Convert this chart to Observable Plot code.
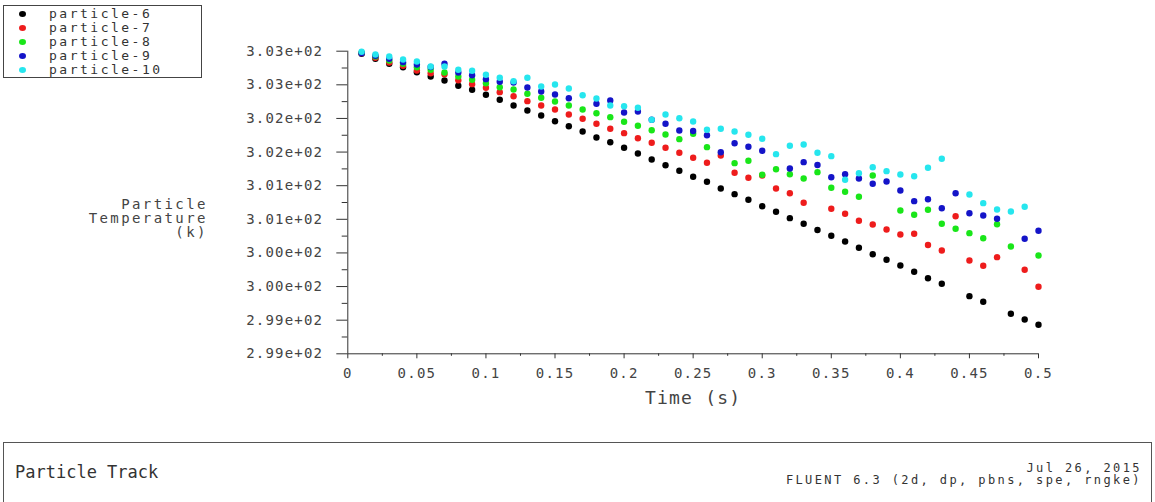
<!DOCTYPE html>
<html><head><meta charset="utf-8">
<script src="https://cdn.jsdelivr.net/npm/d3@7"></script>
<script src="https://cdn.jsdelivr.net/npm/@observablehq/plot@0.6"></script>
<style>
html,body{margin:0;padding:0;background:#fff;overflow:hidden;width:1155px;height:502px}
#wrap{position:relative;width:1155px;height:502px;overflow:hidden}
#chart{position:absolute;left:0;top:0}
#chart svg text{letter-spacing:1.2px}
#chart svg g[aria-label="text"] text{letter-spacing:2.4px}
#chart svg g[aria-label="text"] text.xtitle{letter-spacing:1.2px}
#legend{position:absolute;left:3px;top:5px;width:199px;height:73px;border:1px solid #444;box-sizing:border-box;background:#fff;font-family:"DejaVu Sans Mono",monospace;font-size:13px;letter-spacing:2.5px;color:#333}
#legend .row{position:absolute;left:0;height:14px;line-height:14px;white-space:nowrap}
#legend .dot{position:absolute;left:15px;top:4px;width:7px;height:6px;border-radius:50%}
#legend .lab{position:absolute;left:45px;top:0px}
#footer{position:absolute;left:3px;top:442px;width:1149px;height:80px;border:1px solid #555;box-sizing:border-box;background:#fff;font-family:"DejaVu Sans Mono",monospace;color:#333}
#footer .left{position:absolute;left:11px;top:19px;font-size:17px;line-height:20px}
#footer .right{position:absolute;right:9px;top:19px;font-size:12px;line-height:12px;letter-spacing:2.4px;text-align:right;white-space:pre}
</style>
</head><body>
<div id="wrap">
  <div id="chart"></div>
  <div id="legend"></div>
  <div id="footer"></div>
</div>
<script>
// ---- data ----
const times = [0.01,0.02,0.03,0.04,0.05,0.06,0.07,0.08,0.09,0.10,
               0.11,0.12,0.13,0.14,0.15,0.16,0.17,0.18,0.19,0.20,
               0.21,0.22,0.23,0.24,0.25,0.26,0.27,0.28,0.29,0.30,
               0.31,0.32,0.33,0.34,0.35,0.36,0.37,0.38,0.39,0.40,
               0.41,0.42,0.43,0.44,0.45,0.46,0.47,0.48,0.49,0.50];

const particle6 = [303.212,303.137,303.063,303.012,302.938,302.874,302.815,302.736,302.676,302.602,
                   302.528,302.443,302.368,302.294,302.209,302.135,302.056,301.967,301.897,301.814,
                   301.729,301.640,301.555,301.472,301.382,301.308,301.208,301.124,301.040,300.945,
                   300.862,300.767,300.683,300.591,300.505,300.420,300.326,300.231,300.148,300.063,
                   299.970,299.874,299.791,null,299.607,299.523,null,299.345,299.260,299.181];

const particle7 = [303.221,303.152,303.082,303.033,302.963,302.923,302.908,302.819,302.760,302.706,
                   302.641,302.581,302.507,302.443,302.383,302.309,302.245,302.171,302.096,302.031,
                   301.956,301.888,301.814,301.739,301.665,301.591,301.699,301.442,301.368,301.402,
                   301.208,301.138,300.996,null,300.907,300.832,300.728,300.673,300.599,300.524,
                   300.535,300.368,300.286,300.796,300.138,300.059,300.187,null,299.999,299.746];

const particle8 = [303.227,303.171,303.112,303.063,303.012,302.974,302.934,302.874,302.825,302.774,
                   302.715,302.681,302.617,302.557,302.502,302.443,302.383,302.328,302.269,302.200,
                   302.141,302.075,302.011,301.942,302.022,301.823,null,301.585,301.620,301.412,
                   301.495,301.421,301.357,301.451,301.219,301.159,301.085,301.402,null,300.881,
                   300.817,300.892,300.683,300.609,300.544,300.469,300.677,300.346,null,300.212];

const particle9 = [303.221,303.182,303.137,303.087,303.053,303.015,303.063,302.934,302.893,302.834,
                   302.795,302.785,302.710,302.651,302.606,302.551,null,302.468,302.517,302.339,
                   302.354,302.230,302.171,302.071,302.064,302.001,301.748,301.882,301.829,301.769,
                   null,301.506,301.600,301.558,301.376,301.421,301.357,301.278,301.313,301.179,
                   301.020,301.049,300.915,301.138,300.841,300.807,300.758,null,300.460,300.579];

const particle10 = [303.241,303.201,303.171,303.127,303.097,303.023,303.023,302.974,302.959,302.899,
                    302.855,302.804,302.855,302.725,302.755,302.696,302.596,302.547,302.443,302.432,
                    302.409,302.230,302.309,302.254,302.205,302.081,302.096,302.056,302.007,301.948,
                    301.719,301.843,301.863,301.739,301.689,301.338,301.436,301.525,301.466,301.417,
                    301.391,301.516,301.650,null,301.119,300.990,300.896,300.866,300.936,null];

const seriesNames = ["particle-6","particle-7","particle-8","particle-9","particle-10"];
const seriesValues = [particle6, particle7, particle8, particle9, particle10];
const seriesColors = ["#000000","#ee1c1c","#19e619","#1414c8","#26e6ee"];

const yTickValues = [298.75,299.25,299.75,300.25,300.75,301.25,301.75,302.25,302.75,303.25];
const yTickLabels = ["2.99e+02","2.99e+02","3.00e+02","3.00e+02","3.01e+02","3.01e+02","3.02e+02","3.02e+02","3.03e+02","3.03e+02"];
const yMinorTicks = [299,299.5,300,300.5,301,301.5,302,302.5,303];

const xTickValues = [0,0.05,0.1,0.15,0.2,0.25,0.3,0.35,0.4,0.45,0.5];
const xTickLabels = ["0","0.05","0.1","0.15","0.2","0.25","0.3","0.35","0.4","0.45","0.5"];
const xMinorTicks = [0.025,0.075,0.125,0.175,0.225,0.275,0.325,0.375,0.425,0.475];

const xTitle = "Time (s)";
const yTitle = "Particle\nTemperature\n(k)";
const footerLeft = "Particle Track";
const footerRight = "Jul 26, 2015\nFLUENT 6.3 (2d, dp, pbns, spe, rngke)";

// ---- build table ----
const rows = [];
seriesNames.forEach((name, s) => {
  seriesValues[s].forEach((v, i) => {
    if (v != null) rows.push({t: times[i], T: v, series: name});
  });
});

const yLabelMap = new Map(yTickValues.map((v, i) => [v, yTickLabels[i]]));
const xLabelMap = new Map(xTickValues.map((v, i) => [v, xTickLabels[i]]));

const chart = Plot.plot({
  width: 1155,
  height: 420,
  marginLeft: 347.3,
  marginRight: 117,
  marginTop: 50.7,
  marginBottom: 66.7,
  style: {fontFamily: "'DejaVu Sans Mono', monospace", fontSize: "14px", color: "#444", background: "transparent", overflow: "visible"},
  x: {domain: [0, 0.5]},
  y: {domain: [298.75, 303.25]},
  color: {domain: seriesNames, range: seriesColors},
  marks: [
    Plot.axisY(yTickValues, {tickFormat: d => yLabelMap.get(d), tickSize: 11, tickPadding: 13.6, label: null, stroke: "#333", fill: "#444"}),
    Plot.axisY(yMinorTicks, {tickSize: 5.6, fill: "none", label: null, stroke: "#333"}),
    Plot.axisX(xTickValues, {tickFormat: d => xLabelMap.get(d), tickSize: 5, tickPadding: 9, label: null, stroke: "#333", fill: "#444"}),
    Plot.axisX(xMinorTicks, {tickSize: 2.5, fill: "none", label: null, stroke: "#333"}),
    Plot.ruleX([0], {stroke: "#333"}),
    Plot.ruleY([298.75], {stroke: "#333"}),
    Plot.dot(rows, {x: "t", y: "T", fill: "series", r: 3.2, stroke: null}),
    Plot.text([xTitle], {frameAnchor: "bottom", lineAnchor: "bottom", dy: 49.7, fontSize: 18, fill: "#444"}),
    Plot.text([yTitle], {frameAnchor: "left", textAnchor: "end", lineAnchor: "bottom", dx: -140, dy: 34, fontSize: 14, lineHeight: 1, fill: "#444"})
  ]
});
d3.select(chart).selectAll('g[aria-label="text"] text')
  .filter(function() { return this.textContent === xTitle; })
  .classed("xtitle", true);
document.getElementById("chart").appendChild(chart);

// ---- legend ----
const legend = document.getElementById("legend");
seriesNames.forEach((name, i) => {
  const row = document.createElement("div");
  row.className = "row";
  row.style.top = (1 + 14 * i) + "px";
  row.style.width = "100%";
  const dot = document.createElement("span");
  dot.className = "dot";
  dot.style.background = seriesColors[i];
  const lab = document.createElement("span");
  lab.className = "lab";
  lab.textContent = name;
  row.appendChild(dot);
  row.appendChild(lab);
  legend.appendChild(row);
});

// ---- footer ----
const footer = document.getElementById("footer");
const fl = document.createElement("div");
fl.className = "left";
fl.textContent = footerLeft;
const fr = document.createElement("div");
fr.className = "right";
fr.textContent = footerRight;
footer.appendChild(fl);
footer.appendChild(fr);
</script>
</body></html>
